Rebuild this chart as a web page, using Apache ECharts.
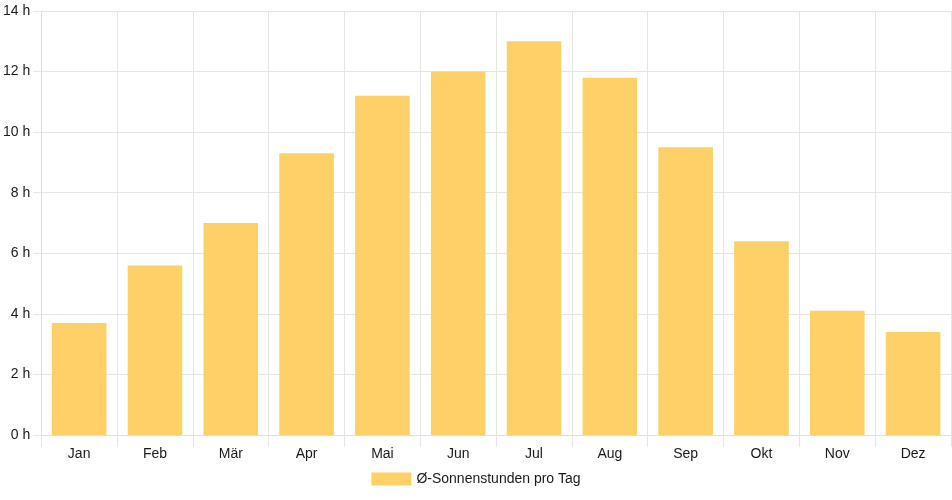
<!DOCTYPE html>
<html><head><meta charset="utf-8">
<script src="https://cdn.jsdelivr.net/npm/echarts@6/dist/echarts.min.js"></script>
<style>html,body{margin:0;padding:0;background:#fff}#c{width:952px;height:500px}</style>
</head><body><div id="c"></div>
<script>
const months = ['Jan','Feb','Mär','Apr','Mai','Jun','Jul','Aug','Sep','Okt','Nov','Dez'];
const sunHours = [3.7, 5.6, 7.0, 9.3, 11.2, 12.0, 13.0, 11.8, 9.5, 6.4, 4.1, 3.4];
const seriesName = 'Ø-Sonnenstunden pro Tag';
const yMin = 0, yMax = 14, yStep = 2;

const chart = echarts.init(document.getElementById('c'), null, {renderer:'canvas'});
const font = 'Liberation Sans, Arial, Helvetica, sans-serif';
const txt = '#1a1a1a';
chart.setOption({
  animation:false,
  textStyle:{fontFamily:font},
  grid:{left:41,right:1,top:11,bottom:65,containLabel:false},
  legend:{
    data:[seriesName], bottom:9, left:'center',
    itemWidth:40, itemHeight:13, itemGap:10,
    icon:'rect',
    textStyle:{fontSize:14,color:txt,fontFamily:font}
  },
  xAxis:{
    type:'category', data:months, boundaryGap:true,
    axisLine:{show:true,lineStyle:{color:'#ddd'}},
    axisTick:{show:true,length:12,alignWithLabel:false,lineStyle:{color:'#e5e5e5'}},
    splitLine:{show:true,lineStyle:{color:'#e5e5e5'}},
    axisLabel:{fontSize:14,color:txt,margin:12,fontFamily:font}
  },
  yAxis:{
    type:'value', min:yMin, max:yMax, interval:yStep,
    axisLine:{show:true,lineStyle:{color:'#ddd'}},
    axisTick:{show:true,length:8,lineStyle:{color:'#e5e5e5'}},
    splitLine:{show:true,lineStyle:{color:'#e5e5e5'}},
    axisLabel:{fontSize:14,color:txt,margin:11,fontFamily:font,formatter:v=>v+' h'}
  },
  series:[{
    name:seriesName, type:'bar', data:sunHours, barWidth:'72%',
    itemStyle:{color:'#fdd068'}
  }]
});
</script></body></html>
